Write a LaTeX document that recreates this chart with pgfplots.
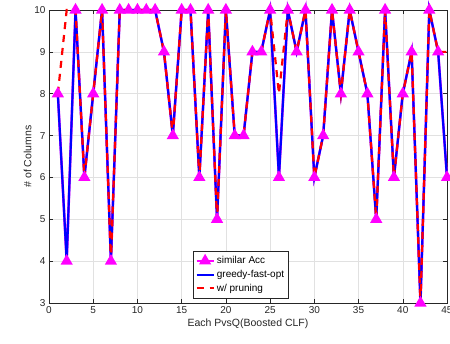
\documentclass[border=0pt]{standalone}
\usepackage{pgfplots}
\pgfplotsset{compat=1.18}
\usepackage{fontspec}
\setmainfont{Liberation Sans}
\definecolor{gridc}{RGB}{225,225,225}
\definecolor{axc}{RGB}{38,38,38}
\definecolor{mag}{RGB}{255,0,255}
\definecolor{blu}{RGB}{0,0,255}
\definecolor{rd}{RGB}{255,0,0}
\begin{document}
\begin{tikzpicture}
\useasboundingbox (-49pt,-40pt) rectangle (401pt,303pt);
\begin{axis}[
  scale only axis, width=398pt, height=293pt,
  xmin=0, xmax=45, ymin=3, ymax=10,
  xtick={0,5,...,45}, ytick={3,4,...,10},
  tick align=inside, major tick length=4pt,
  grid=major, major grid style={gridc, line width=0.5pt},
  axis line style={axc, line width=0.6pt},
  tick style={axc, line width=0.5pt},
  ticklabel style={font=\fontsize{10}{12}\selectfont, text=axc},
  /pgf/number format/assume math mode=true,
  xlabel={Each PvsQ(Boosted CLF)}, ylabel={\# of Columns},
  label style={font=\fontsize{10.5}{12}\selectfont, text=axc},
  xlabel style={yshift=2pt}, ylabel style={yshift=-4pt},
  legend style={at={(0.362,0.017)}, anchor=south west, font=\fontsize{10}{12}\selectfont,
    draw=axc, line width=0.5pt, inner xsep=2pt, inner ysep=3pt, row sep=1pt},
  legend cell align=left,
  clip=false,
]
\addplot[mag, line width=2.5pt, mark=triangle*, mark size=4.6pt, mark options={solid, fill=mag}] coordinates {
(1,8)(2,4)(3,10)(4,6)(5,8)(6,10)(7,4)(8,10)(9,10)(10,10)(11,10)(12,10)(13,9)(14,7)(15,10)
(16,10)(17,6)(18,10)(19,5)(20,10)(21,7)(22,7)(23,9)(24,9)(25,10)(26,6)(27,10)(28,9)(29,10)(30,6)
(31,7)(32,10)(33,8)(34,10)(35,9)(36,8)(37,5)(38,10)(39,6)(40,8)(41,9)(42,3)(43,10)(44,9)(45,6)};
\addlegendentry{similar Acc}
\addplot[blu, line width=2.2pt] coordinates {
(1,8)(2,4)(3,10)(4,6)(5,8)(6,10)(7,4)(8,10)(9,10)(10,10)(11,10)(12,10)(13,9)(14,7)(15,10)
(16,10)(17,6)(18,10)(19,5)(20,10)(21,7)(22,7)(23,9)(24,9)(25,10)(26,6)(27,10)(28,9)(29,10)(30,6)
(31,7)(32,10)(33,8)(34,10)(35,9)(36,8)(37,5)(38,10)(39,6)(40,8)(41,9)(42,3)(43,10)(44,9)(45,6)};
\addlegendentry{greedy-fast-opt}
\addplot[rd, line width=2.2pt, dash pattern=on 7pt off 6pt] coordinates {
(1,8)(2,10)(3,10)(4,6)(5,8)(6,10)(7,4)(8,10)(9,10)(10,10)(11,10)(12,10)(13,9)(14,7)(15,10)
(16,10)(17,6)(18,10)(19,5)(20,10)(21,7)(22,7)(23,9)(24,9)(25,10)(26,8)(27,10)(28,9)(29,10)(30,6)
(31,7)(32,10)(33,8)(34,10)(35,9)(36,8)(37,5)(38,10)(39,6)(40,8)(41,9)(42,3)(43,10)(44,9)(45,9)};
\addlegendentry{w/ pruning}
\end{axis}
\end{tikzpicture}
\end{document}
